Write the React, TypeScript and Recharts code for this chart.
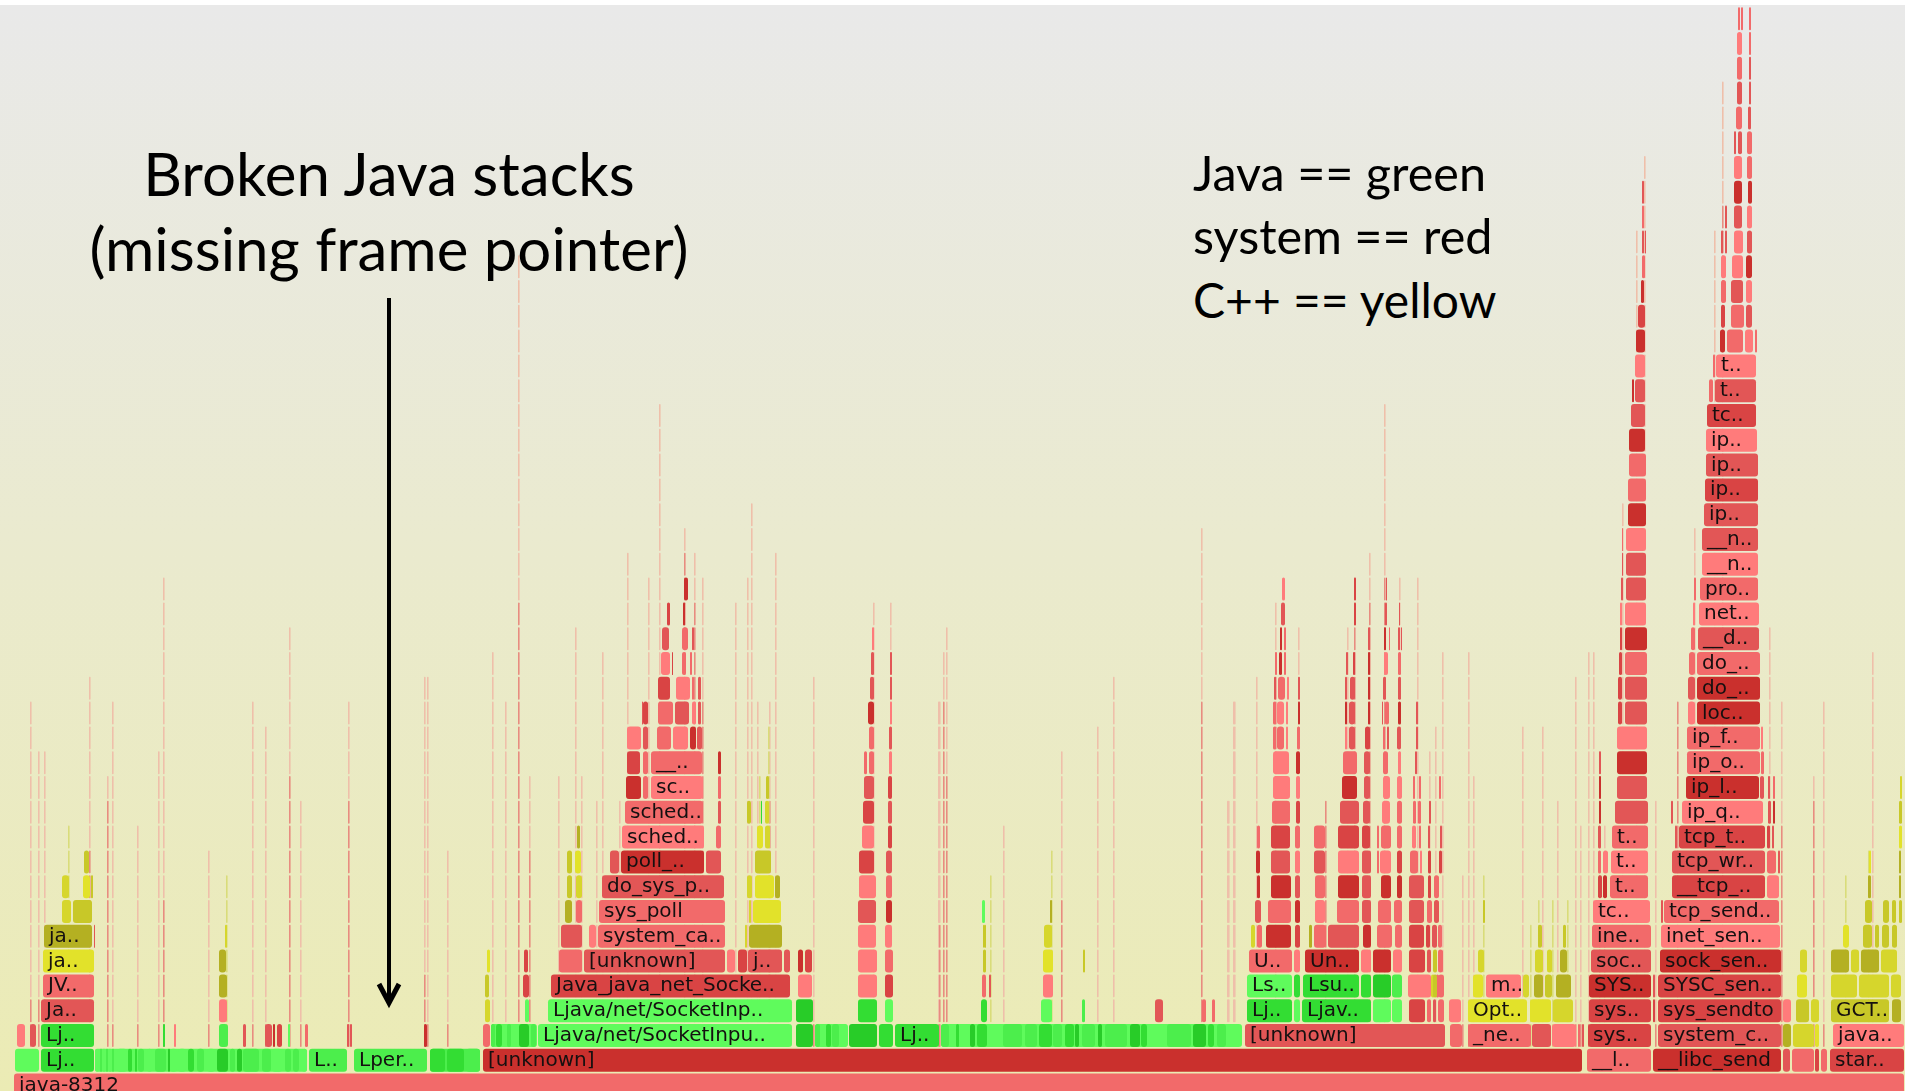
import { Bar, BarChart, XAxis, YAxis } from "recharts";

type Frame = [number, number, string, string?];

// frames per stack depth: [first sample, last sample, shade, name]
const level0: Frame[] = [[14, 1905, "r2", "java-8312"]];
const level1: Frame[] = [
  [95, 308, "g1"], [430, 481, "g2"],
  [15, 40, "g1"], [41, 95, "g3", "Lj.."], [95, 100, "g1"], [100, 103, "g2"], [103, 106, "g1"], [106, 109, "g2"], [109, 112, "g1"], [112, 115, "g2"],
  [117, 128, "g1"], [128, 133, "g3"], [135, 138, "g3"], [138, 145, "g2"], [147, 153, "g1"], [155, 167, "g2"], [168, 170, "g4"], [170, 178, "g1"],
  [178, 187, "g1"], [188, 195, "g3"], [197, 205, "g2"], [207, 216, "g1"], [217, 229, "g4"], [230, 236, "g2"], [237, 243, "g4"], [243, 260, "g2"],
  [262, 272, "g2"], [272, 283, "g1"], [285, 292, "g2"], [293, 300, "g2"], [302, 308, "g1"], [309, 348, "g2", "L.."], [354, 428, "g2", "Lper.."],
  [430, 446, "g3"], [447, 465, "g3"], [466, 481, "g2"], [483, 1583, "r5", "[unknown]"], [1587, 1652, "r2", "__l.."], [1653, 1782, "r5", "__libc_send"],
  [1783, 1791, "r3"], [1792, 1815, "r2"], [1815, 1820, "r4"], [1821, 1828, "r2"], [1830, 1905, "r4", "star.."],
];
const level2: Frame[] = [
  [491, 538, "g1"], [815, 849, "g1"], [941, 1243, "g1"],
  [17, 26, "r1"], [30, 37, "r3"], [41, 95, "g3", "Lj.."], [163, 165, "g3"], [174, 176, "r1"], [219, 229, "g2"], [243, 247, "r3"], [265, 273, "r3"],
  [273, 276, "r5"], [277, 283, "r4"], [288, 290, "g1"], [305, 309, "r2"], [347, 349, "r3"], [350, 352, "r3"], [424, 428, "r5"],
  [483, 491, "r2"], [491, 496, "g2"], [496, 503, "g3"], [503, 507, "g1"], [507, 512, "g2"], [512, 518, "g1"], [519, 530, "g4"], [531, 537, "g2"],
  [538, 793, "g1", "Ljava/net/SocketInpu.."], [796, 814, "g4"], [815, 821, "g2"], [821, 826, "g1"], [826, 832, "g3"], [832, 840, "g2"], [840, 848, "g1"],
  [849, 878, "g4"], [879, 894, "g3"], [895, 940, "g3", "Lj.."], [941, 950, "g2"], [950, 956, "g1"], [956, 960, "g3"], [960, 970, "g1"], [970, 976, "g4"],
  [977, 988, "g3"], [990, 1003, "g1"], [1003, 1023, "g2"], [1025, 1038, "g2"], [1039, 1053, "g3"], [1053, 1063, "g2"], [1065, 1075, "g3"], [1075, 1080, "g4"],
  [1082, 1096, "g2"], [1098, 1103, "g4"], [1105, 1128, "g2"], [1130, 1141, "g4"], [1141, 1148, "g3"], [1149, 1165, "g1"], [1167, 1192, "g2"], [1193, 1207, "g4"],
  [1208, 1215, "g3"], [1217, 1227, "g2"], [1228, 1240, "g1"], [1245, 1446, "r3", "[unknown]"], [1450, 1463, "r2"], [1468, 1532, "r2", "_ne.."],
  [1532, 1552, "r3"], [1552, 1577, "r1"], [1578, 1581, "r2"], [1582, 1584, "r3"], [1588, 1652, "r4", "sys.."], [1658, 1782, "r3", "system_c.."],
  [1783, 1792, "y4"], [1793, 1815, "y2"], [1815, 1820, "y1"], [1833, 1905, "r1", "java.."],
];
const level3: Frame[] = [
  [41, 95, "r3", "Ja.."], [219, 228, "r1"], [485, 491, "y2"], [525, 530, "g1"], [548, 793, "g1", "Ljava/net/SocketInp.."], [796, 814, "g4"],
  [858, 878, "g3"], [885, 894, "g1"], [981, 988, "g3"], [1041, 1053, "g1"], [1082, 1086, "g2"], [1155, 1164, "r3"], [1202, 1207, "r2"], [1212, 1216, "r2"],
  [1247, 1293, "g3", "Lj.."], [1294, 1301, "g1"], [1302, 1372, "g3", "Ljav.."], [1373, 1392, "g1"], [1392, 1403, "g1"], [1409, 1426, "r4"],
  [1427, 1432, "r2"], [1433, 1437, "r3"], [1438, 1445, "r2"], [1449, 1462, "r1"], [1468, 1528, "y1", "Opt.."], [1530, 1552, "y1"], [1553, 1574, "y2"],
  [1589, 1652, "r4", "sys.."], [1653, 1656, "r4"], [1658, 1782, "r4", "sys_sendto"], [1783, 1792, "r1"], [1796, 1810, "y3"], [1811, 1820, "y2"],
  [1831, 1890, "y3", "GCT.."], [1892, 1902, "y4"],
];
const level4: Frame[] = [
  [43, 95, "r2", "JV.."], [219, 228, "y4"], [485, 490, "y3"], [523, 530, "r4"], [551, 791, "r4", "Java_java_net_Socke.."], [798, 813, "r1"], [858, 878, "r1"],
  [885, 894, "r4"], [982, 987, "r2"], [989, 991, "r3"], [1043, 1054, "r1"], [1247, 1293, "g1", "Ls.."], [1294, 1301, "g3"], [1303, 1360, "g3", "Lsu.."],
  [1361, 1372, "g3"], [1373, 1392, "g4"], [1392, 1403, "g2"], [1408, 1430, "r1"], [1431, 1436, "y2"], [1436, 1440, "r2"], [1425, 1432, "r1"], [1433, 1438, "y3"],
  [1438, 1445, "r2"], [1473, 1484, "y1"], [1486, 1522, "r1", "m.."], [1523, 1530, "y2"], [1534, 1544, "y4"], [1545, 1553, "y3"], [1556, 1572, "y4"],
  [1589, 1652, "r5", "SYS.."], [1653, 1656, "r3"], [1658, 1782, "r4", "SYSC_sen.."], [1797, 1808, "y1"], [1831, 1858, "y2"], [1859, 1890, "y2"], [1891, 1902, "y2"],
];
const level5: Frame[] = [
  [43, 95, "y1", "ja.."], [219, 227, "y4"], [487, 491, "y1"], [524, 529, "r4"], [559, 583, "r2"], [584, 726, "r3", "[unknown]"], [727, 736, "r1"], [738, 748, "r4"],
  [748, 783, "r3", "j.."], [784, 791, "r3"], [798, 804, "r5"], [805, 813, "r4"], [858, 878, "r1"], [885, 894, "r2"], [983, 987, "y3"], [1043, 1054, "y1"],
  [1083, 1085, "y3"], [1249, 1293, "r2", "U.."], [1294, 1301, "r1"], [1305, 1360, "r5", "Un.."], [1361, 1372, "r1"], [1373, 1392, "r5"], [1393, 1403, "r1"],
  [1409, 1426, "r4"], [1427, 1432, "r3"], [1433, 1438, "y3"], [1438, 1444, "r2"], [1478, 1485, "y2"], [1535, 1544, "y2"], [1547, 1553, "y2"], [1560, 1568, "y4"],
  [1591, 1652, "r3", "soc.."], [1660, 1782, "r5", "sock_sen.."], [1800, 1808, "y2"], [1831, 1850, "y4"], [1851, 1860, "y2"], [1861, 1880, "y4"], [1881, 1898, "y2"],
];
const level6: Frame[] = [
  [44, 93, "y4", "ja.."], [94, 95, "r3"], [225, 227, "y2"], [561, 583, "r3"], [589, 597, "r1"], [598, 726, "r2", "system_ca.."], [745, 747, "y2"], [749, 783, "y4"],
  [985, 986, "y3"], [858, 877, "r1"], [885, 893, "r1"], [983, 986, "y3"], [1044, 1053, "y2"], [1251, 1256, "y2"], [1257, 1263, "r2"], [1266, 1292, "r5"],
  [1295, 1301, "r4"], [1309, 1313, "y4"], [1314, 1327, "r2"], [1328, 1360, "r3"], [1363, 1372, "r5"], [1377, 1393, "r2"], [1395, 1403, "r2"], [1409, 1425, "r4"],
  [1426, 1431, "r4"], [1432, 1438, "r3"], [1438, 1443, "r2"], [1538, 1543, "y3"], [1563, 1567, "y3"], [1592, 1652, "r2", "ine.."], [1661, 1781, "r1", "inet_sen.."],
  [1843, 1850, "y1"], [1863, 1873, "y3"], [1875, 1880, "y3"], [1882, 1890, "y3"], [1892, 1898, "y3"],
];
const level7: Frame[] = [
  [62, 72, "y2"], [73, 93, "y3"], [565, 573, "y4"], [576, 583, "r2"], [599, 726, "r2", "sys_poll"], [749, 752, "y2"], [753, 782, "y1"], [858, 877, "r3"], [886, 893, "r5"],
  [982, 986, "g1"], [1050, 1053, "y4"], [1255, 1262, "r3"], [1268, 1292, "r2"], [1295, 1301, "r5"], [1315, 1326, "r1"], [1337, 1360, "r2"], [1362, 1372, "r3"],
  [1378, 1392, "r2"], [1394, 1403, "r2"], [1409, 1425, "r3"], [1427, 1433, "r2"], [1434, 1440, "r3"], [1483, 1485, "y3"], [1593, 1651, "r1", "tc.."],
  [1661, 1663, "r3"], [1664, 1780, "r2", "tcp_send.."], [1865, 1873, "y3"], [1883, 1890, "y3"], [1892, 1897, "y3"], [1899, 1903, "y3"],
];
const level8: Frame[] = [
  [62, 70, "y2"], [83, 91, "y1"], [91, 93, "y3"], [567, 573, "y3"], [576, 583, "y2"], [602, 725, "r3", "do_sys_p.."], [747, 753, "y2"], [755, 775, "y1"], [775, 781, "y4"],
  [859, 877, "r1"], [886, 893, "r2"], [1257, 1261, "r5"], [1271, 1292, "r5"], [1295, 1301, "r3"], [1315, 1326, "r2"], [1338, 1360, "r5"], [1362, 1372, "r3"],
  [1381, 1392, "r5"], [1397, 1403, "r5"], [1409, 1425, "r3"], [1428, 1432, "r4"], [1434, 1440, "r2"], [1598, 1603, "r4"], [1603, 1608, "r5"],
  [1610, 1649, "r2", "t.."], [1672, 1766, "r4", "__tcp_.."], [1767, 1780, "r1"], [1868, 1872, "y4"], [1899, 1902, "y4"],
];
const level9: Frame[] = [
  [84, 90, "y3"], [567, 573, "y3"], [575, 582, "y1"], [610, 620, "r3"], [621, 705, "r5", "poll_.."], [706, 722, "r3"], [755, 772, "y3"], [859, 875, "r4"], [886, 893, "r3"],
  [1256, 1261, "r5"], [1271, 1291, "r3"], [1295, 1301, "r1"], [1314, 1326, "r3"], [1338, 1360, "r1"], [1362, 1372, "r3"], [1377, 1379, "r2"], [1380, 1392, "r1"],
  [1397, 1403, "r4"], [1410, 1419, "r2"], [1420, 1423, "r1"], [1428, 1432, "r4"], [1439, 1443, "r4"], [1598, 1602, "r2"], [1603, 1609, "r1"],
  [1611, 1649, "r1", "t.."], [1672, 1766, "r3", "tcp_wr.."], [1767, 1777, "r2"], [1778, 1780, "r3"], [1869, 1871, "y1"], [1899, 1902, "y4"],
];
const level10: Frame[] = [
  [577, 581, "y4"], [622, 705, "r1", "sched.."], [716, 722, "r2"], [757, 764, "y1"], [765, 771, "y2"], [862, 875, "r1"], [888, 893, "r4"],
  [1257, 1261, "r2"], [1271, 1291, "r4"], [1295, 1301, "r2"], [1314, 1326, "r2"], [1338, 1360, "r4"], [1362, 1371, "r4"], [1377, 1379, "r2"], [1381, 1392, "r2"],
  [1397, 1403, "r2"], [1412, 1417, "r1"], [1419, 1422, "r2"], [1428, 1431, "r3"], [1440, 1443, "r3"], [1598, 1602, "r3"], [1612, 1649, "r2", "t.."],
  [1675, 1677, "r3"], [1679, 1766, "r4", "tcp_t.."], [1767, 1771, "r4"], [1772, 1775, "r3"], [1899, 1903, "y1"],
];
const level11: Frame[] = [
  [625, 704, "r2", "sched.."], [718, 722, "r3"], [747, 752, "y3"], [761, 762, "g3"], [765, 770, "y2"], [863, 875, "r4"], [888, 893, "r3"],
  [1272, 1291, "r2"], [1296, 1301, "r4"], [1340, 1360, "r3"], [1363, 1371, "r3"], [1382, 1391, "r1"], [1397, 1403, "r2"], [1413, 1417, "r2"], [1418, 1422, "r2"],
  [1429, 1431, "r3"], [1599, 1601, "r5"], [1615, 1649, "r3"], [1682, 1764, "r1", "ip_q.."], [1671, 1673, "r3"], [1768, 1772, "r3"], [1773, 1775, "r5"], [1899, 1903, "y3"],
];
const level12: Frame[] = [
  [626, 642, "r5"], [643, 649, "r2"], [651, 704, "r1", "sc.."], [718, 722, "r2"], [766, 770, "y3"], [864, 875, "r3"], [888, 893, "r4"],
  [1273, 1291, "r1"], [1296, 1301, "r1"], [1342, 1358, "r5"], [1364, 1371, "r3"], [1383, 1391, "r1"], [1397, 1403, "r1"], [1413, 1416, "r2"], [1419, 1422, "r2"],
  [1439, 1441, "r2"], [1599, 1601, "r5"], [1617, 1648, "r3"], [1686, 1760, "r5", "ip_l.."], [1760, 1765, "r3"], [1768, 1770, "r3"], [1773, 1775, "r2"], [1900, 1902, "y2"],
];
const level13: Frame[] = [
  [627, 641, "r4"], [643, 649, "r2"], [651, 703, "r2", "__.."], [718, 722, "r5"], [864, 868, "r2"], [869, 875, "r2"], [889, 893, "r1"],
  [1273, 1290, "r1"], [1296, 1301, "r5"], [1343, 1358, "r2"], [1364, 1371, "r3"], [1383, 1389, "r2"], [1398, 1402, "r1"], [1415, 1417, "r3"], [1599, 1601, "r3"],
  [1617, 1648, "r5"], [1687, 1761, "r2", "ip_o.."], [1761, 1765, "r2"],
];
const level14: Frame[] = [
  [627, 642, "r1"], [643, 649, "r3"], [657, 672, "r2"], [673, 689, "r1"], [690, 697, "r5"], [697, 703, "r3"], [869, 875, "r2"], [889, 893, "r3"],
  [1273, 1277, "r2"], [1277, 1285, "r2"], [1286, 1289, "r1"], [1297, 1301, "r2"], [1345, 1348, "r1"], [1349, 1356, "r3"], [1365, 1371, "r4"], [1383, 1386, "r2"], [1387, 1390, "r3"],
  [1397, 1402, "r3"], [1416, 1418, "r3"], [1617, 1648, "r1"], [1687, 1761, "r2", "ip_f.."], [1761, 1763, "r1"],
];
const level15: Frame[] = [
  [642, 643, "r3"], [643, 649, "r4"], [658, 674, "r2"], [675, 690, "r3"], [692, 697, "r1"], [698, 702, "r3"], [868, 875, "r5"], [890, 892, "r1"],
  [1273, 1277, "r2"], [1277, 1285, "r1"], [1286, 1289, "r1"], [1298, 1300, "r5"], [1345, 1348, "r5"], [1349, 1356, "r3"], [1368, 1371, "r5"], [1382, 1383, "r3"], [1385, 1390, "r2"],
  [1398, 1402, "r5"], [1416, 1418, "r3"], [1618, 1623, "r4"], [1625, 1648, "r3"], [1688, 1696, "r1"], [1697, 1761, "r5", "loc.."],
];
const level16: Frame[] = [
  [658, 671, "r4"], [676, 691, "r1"], [692, 694, "r2"], [698, 702, "r3"], [870, 875, "r3"], [890, 892, "r3"],
  [1274, 1277, "r3"], [1278, 1286, "r2"], [1287, 1289, "r1"], [1298, 1300, "r3"], [1345, 1348, "r3"], [1350, 1356, "r3"], [1368, 1371, "r5"], [1383, 1387, "r3"], [1398, 1402, "r3"],
  [1618, 1623, "r4"], [1625, 1648, "r3"], [1688, 1696, "r3"], [1697, 1761, "r5", "do_.."],
];
const level17: Frame[] = [
  [661, 671, "r1"], [672, 673, "r4"], [682, 687, "r2"], [690, 693, "r2"], [871, 875, "r3"], [890, 892, "r3"],
  [1275, 1277, "r2"], [1279, 1283, "r5"], [1284, 1286, "r2"], [1346, 1348, "r3"], [1353, 1355, "r4"], [1368, 1370, "r5"], [1384, 1389, "r1"], [1398, 1402, "r2"],
  [1619, 1623, "r4"], [1625, 1648, "r2"], [1689, 1696, "r2"], [1697, 1761, "r2", "do_.."],
];
const level18: Frame[] = [
  [662, 670, "r3"], [682, 689, "r2"], [692, 694, "r3"], [872, 875, "r1"], [1280, 1283, "r5"], [1284, 1286, "r2"], [1368, 1370, "r3"], [1384, 1387, "r5"],
  [1389, 1390, "r2"], [1398, 1400, "r3"], [1401, 1402, "r3"], [1620, 1623, "r4"], [1625, 1648, "r5"], [1691, 1696, "r2"], [1698, 1760, "r3", "__d.."],
];
const level19: Frame[] = [
  [667, 671, "r4"], [683, 686, "r5"], [1281, 1286, "r3"], [1354, 1356, "r4"], [1385, 1387, "r3"], [1399, 1400, "r3"], [1620, 1623, "r1"], [1625, 1647, "r1"],
  [1693, 1696, "r1"], [1699, 1760, "r1", "net.."],
];
const level20: Frame[] = [
  [684, 689, "r5"], [1282, 1286, "r1"], [1354, 1356, "r4"], [1386, 1387, "r3"], [1621, 1623, "r3"], [1626, 1647, "r3"], [1694, 1696, "r2"], [1700, 1759, "r2", "pro.."],
];
const level21: Frame[] = [[1622, 1623, "r3"], [1626, 1647, "r3"], [1702, 1759, "r1", "__n.."]];
const level22: Frame[] = [[1622, 1623, "r2"], [1626, 1647, "r1"], [1702, 1759, "r3", "__n.."]];
const level23: Frame[] = [[1628, 1647, "r5"], [1704, 1759, "r3", "ip.."]];
const level24: Frame[] = [[1628, 1647, "r2"], [1705, 1759, "r4", "ip.."]];
const level25: Frame[] = [[1629, 1647, "r2"], [1706, 1759, "r3", "ip.."]];
const level26: Frame[] = [[1629, 1646, "r5"], [1706, 1758, "r1", "ip.."]];
const level27: Frame[] = [[1631, 1646, "r3"], [1707, 1757, "r4", "tc.."]];
const level28: Frame[] = [[1632, 1634, "r5"], [1635, 1646, "r3"], [1709, 1714, "r2"], [1715, 1757, "r3", "t.."]];
const level29: Frame[] = [[1635, 1646, "r1"], [1713, 1715, "r2"], [1716, 1757, "r1", "t.."]];
const level30: Frame[] = [[1636, 1646, "r5"], [1720, 1726, "r5"], [1727, 1744, "r2"], [1745, 1754, "r1"], [1755, 1757, "r2"]];
const level31: Frame[] = [[1638, 1646, "r4"], [1721, 1726, "r4"], [1731, 1745, "r2"], [1746, 1753, "r3"]];
const level32: Frame[] = [[1641, 1645, "r5"], [1721, 1727, "r2"], [1731, 1744, "r3"], [1746, 1753, "r1"]];
const level33: Frame[] = [[1642, 1646, "r2"], [1721, 1727, "r1"], [1732, 1744, "r1"], [1746, 1753, "r5"]];
const level34: Frame[] = [[1642, 1644, "r3"], [1645, 1646, "r3"], [1721, 1723, "r3"], [1725, 1727, "r3"], [1734, 1744, "r1"], [1747, 1753, "r3"]];
const level35: Frame[] = [[1642, 1644, "r2"], [1725, 1727, "r3"], [1734, 1743, "r3"], [1747, 1753, "r1"]];
const level36: Frame[] = [[1642, 1644, "r3"], [1734, 1743, "r5"], [1748, 1753, "r5"]];
const level37: Frame[] = [[1734, 1743, "r1"], [1747, 1753, "r2"]];
const level38: Frame[] = [[1734, 1737, "r3"], [1738, 1743, "r3"], [1747, 1753, "r2"]];
const level39: Frame[] = [[1736, 1743, "r2"], [1748, 1752, "r3"]];
const level40: Frame[] = [[1737, 1743, "r3"], [1749, 1752, "r3"]];
const level41: Frame[] = [[1737, 1743, "r2"], [1749, 1752, "r3"]];
const level42: Frame[] = [[1737, 1743, "r1"], [1749, 1752, "r2"]];
const level43: Frame[] = [[1738, 1740, "r2"], [1741, 1743, "r2"], [1749, 1752, "r2"]];

const levels = [
  level0, level1, level2, level3, level4, level5, level6, level7, level8, level9, level10, level11, level12, level13, level14,
  level15, level16, level17, level18, level19, level20, level21, level22, level23, level24, level25, level26, level27, level28,
  level29, level30, level31, level32, level33, level34, level35, level36, level37, level38, level39, level40, level41, level42, level43,
];

// one-sample columns: [sample, top depth, top depth of the darker part]
const redSlivers = [
  [30, 15, 3], [38, 13, 3], [44, 13, 3], [89, 16, 9], [107, 12, 11], [112, 15, 2], [137, 10, 2], [158, 13, 2], [163, 20, 7], [208, 9, 2], [252, 15, 2], [265, 14, 2],
  [289, 18, 12], [300, 11, 2], [348, 15, 11], [424, 16, 4], [427, 16, 2], [447, 9, 2], [492, 17, 2], [505, 15, 2], [518, 33, 19], [529, 12, 9],
  [558, 12, 2], [575, 18, 2], [581, 12, 2], [596, 11, 2], [602, 17, 2], [619, 11, 2], [627, 21, 2], [648, 20, 2], [659, 27, 15], [684, 22, 21], [694, 21, 19], [702, 20, 15],
  [735, 19, 2], [747, 20, 2], [751, 23, 2], [757, 15, 2], [769, 15, 11], [775, 21, 2], [813, 16, 2], [873, 19, 2], [890, 19, 2], [938, 15, 2],
  [939, 15, 6], [943, 17, 15], [946, 18, 12], [1003, 10, 2], [1061, 13, 7], [1097, 14, 2], [1113, 16, 2], [1201, 22, 15], [1228, 11, 2], [1234, 15, 2],
  [1227, 11, 2], [1233, 15, 2], [1256, 16, 2], [1275, 19, 16], [1298, 18, 2], [1325, 11, 11], [1347, 18, 2], [1354, 20, 18], [1369, 21, 19], [1384, 27, 20], [1399, 20, 2], [1417, 20, 2],
  [1429, 13, 2], [1435, 14, 2], [1442, 17, 2], [1462, 8, 2], [1468, 17, 2], [1473, 12, 2], [1522, 14, 2], [1542, 14, 2], [1557, 11, 2], [1575, 16, 2], [1580, 10, 2],
  [1588, 17, 2], [1593, 17, 2], [1599, 13, 8], [1604, 10, 8], [1655, 11, 2], [1677, 15, 15], [1769, 18, 2], [1781, 15, 10], [1813, 12, 11], [1823, 15, 2], [1872, 17, 2],
  [1622, 23, 2], [1636, 34, 2], [1644, 37, 2], [1694, 22, 2], [1714, 34, 2], [1722, 40, 35],
];
const yellowSlivers = [
  [68, 10], [226, 8], [990, 8], [1051, 9], [759, 12], [768, 14], [1483, 8], [1538, 7], [1552, 7], [1567, 7], [1530, 6], [1845, 8], [1868, 9], [1379, 6],
];

const tones: Record<string, string> = {
  r1: "#ff7b7b", r2: "#f26a6a", r3: "#e25656", r4: "#d94444", r5: "#ca302d",
  g1: "#5ffb5c", g2: "#4cee4c", g3: "#33dd33", g4: "#28cc28",
  y1: "#e2e22a", y2: "#d6d62c", y3: "#c8c828", y4: "#b4b022",
  p: "#efbfaa", q: "#e88c80", w: "#d9dc7a",
};

const sliverFrames = [
  ...redSlivers.flatMap(([x, top, strongTop]) => {
    const out = [];
    for (let level = 2; level <= top; level++) out.push({ level, range: [x, x + 1.6], tone: level <= strongTop ? "q" : "p" });
    return out;
  }),
  ...yellowSlivers.flatMap(([x, top]) => {
    const out = [];
    for (let level = 2; level <= top; level++) out.push({ level, range: [x, x + 1.6], tone: "w" });
    return out;
  }),
];

const frames = [
  ...sliverFrames,
  ...levels.flatMap((row, level) =>
    row.map(([start, end, tone, name]) => ({ level, range: [start, end], tone, name })),
  ),
];

function FrameBar(props: any) {
  const { x, y, width, height, payload } = props;
  const w = width > 2.5 ? width - 1 : width;
  return (
    <g>
      <rect x={x} y={y} width={w} height={height} rx={Math.min(3, w / 2)} fill={tones[payload.tone]} />
      {payload.name && (
        <text x={x + 5} y={y + height / 2 + 5.5} fontFamily="DejaVu Sans" fontSize={20} fill="#151010">
          {payload.name}
        </text>
      )}
    </g>
  );
}

export default function App() {
  return (
    <div style={{ position: "absolute", left: 0, top: 0, width: 1905, height: 1091, overflow: "hidden", background: "#fff" }}>
      <div style={{ position: "absolute", left: 0, top: 5, width: 1905, height: 1086, background: "linear-gradient(#e9e9e9, #ebebb4)" }} />
      <div style={{ position: "absolute", left: 0, top: 0, filter: "blur(0.5px)" }}>
        <BarChart width={1905} height={1091} data={frames} layout="vertical" margin={{ top: 0, right: 0, bottom: 0, left: 0 }}>
          <XAxis type="number" domain={[0, 1905]} hide />
          <YAxis type="number" dataKey="level" domain={[-0.242, 43.75]} reversed hide />
          <Bar dataKey="range" barSize={23} shape={FrameBar} isAnimationActive={false} />
        </BarChart>
      </div>
      <svg width={1905} height={1091} style={{ position: "absolute", left: 0, top: 0 }} fontFamily="Lato" fill="#000">
        <text x={389} y={196} fontSize={60} textAnchor="middle">Broken Java stacks</text>
        <text x={389} y={271} fontSize={60} textAnchor="middle">(missing frame pointer)</text>
        <text x={1193} y={191} fontSize={48.5}>Java == green</text>
        <text x={1193} y={254} fontSize={48.5}>system == red</text>
        <text x={1193} y={318} fontSize={48}>C++ == yellow</text>
        <line x1={389} y1={298} x2={389} y2={1003} stroke="#000" strokeWidth={4} />
        <path d="M379 984 L389 1003 L399 984" fill="none" stroke="#000" strokeWidth={5} />
      </svg>
    </div>
  );
}
